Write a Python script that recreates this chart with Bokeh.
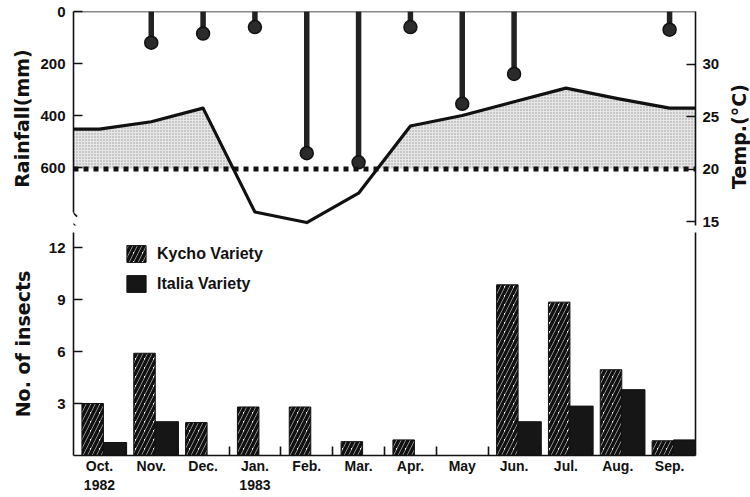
import math
import numpy as np
from bokeh.plotting import figure
from bokeh.models import (Range1d, LinearAxis, FixedTicker, Span, Legend, LegendItem, Arrow)
from bokeh.core.properties import value
from bokeh.layouts import column, row
from bokeh.embed import file_html
from bokeh.resources import INLINE

# ---------------- data ----------------
months = ["Oct.", "Nov.", "Dec.", "Jan.", "Feb.", "Mar.", "Apr.", "May", "Jun.", "Jul.", "Aug.", "Sep."]
month_labels = ["Oct.\n1982", "Nov.", "Dec.", "Jan.\n1983", "Feb.", "Mar.", "Apr.", "May",
                "Jun.", "Jul.", "Aug.", "Sep."]
rainfall_mm = [0, 120, 85, 60, 545, 580, 60, 355, 240, 0, 0, 70]
temperature_c = [23.8, 24.5, 25.8, 15.9, 14.9, 17.7, 24.1, 25.1, 26.4, 27.7, 26.7, 25.8]
temp_threshold = 20
kyoho_insects = [3.0, 5.9, 1.9, 2.8, 2.8, 0.8, 0.9, 0.0, 9.85, 8.85, 4.95, 0.85]
italia_insects = [0.75, 1.95, 0.0, 0.0, 0.0, 0.0, 0.0, 0.0, 1.95, 2.85, 3.8, 0.9]
rain_ticks = [0, 200, 400, 600]
temp_ticks = [15, 20, 25, 30]
insect_ticks = [3, 6, 9, 12]
temp_axis_title = "Temp.(°C)"

# ---------------- styles ----------------
TICK_FONT = "Liberation Sans"
LABEL_FONT = "DejaVu Sans"
INK = "#111111"
FRAME_W = 622
TOP_H = 214
BOT_H = 223
LEFT = 73
RIGHT = 28

n = len(months)
centers = [i + 0.5 for i in range(n)]
boundaries = [i for i in range(1, n)]
xr = Range1d(0, n)


def style_axis(ax, standoff_label=4):
    ax.axis_line_color = INK
    ax.axis_line_width = 1.6
    ax.major_tick_line_color = INK
    ax.major_tick_line_width = 1.6
    ax.major_tick_in = 9
    ax.major_tick_out = 0
    ax.minor_tick_in = 0
    ax.minor_tick_out = 0
    ax.major_label_text_font = TICK_FONT
    ax.major_label_text_font_style = "bold"
    ax.major_label_text_font_size = "15px"
    ax.major_label_text_color = INK
    ax.axis_label_text_font = LABEL_FONT
    ax.axis_label_text_font_style = "bold"
    ax.axis_label_text_font_size = "19px"
    ax.axis_label_text_color = INK
    ax.axis_label_standoff = standoff_label


# ---------------- top panel: rainfall + temperature ----------------
top = figure(frame_width=FRAME_W, frame_height=TOP_H, x_range=xr, y_range=Range1d(823, 0),
             output_backend="svg", toolbar_location=None,
             x_axis_location=None, y_axis_location=None,
             min_border_left=LEFT, min_border_top=11, min_border_bottom=7, min_border_right=RIGHT)
top.outline_line_color = None
top.grid.visible = False
top.extra_y_ranges = {"temp": Range1d(35 - TOP_H / 10.5, 35)}

la = LinearAxis(ticker=FixedTicker(ticks=rain_ticks), bounds=(0, 773), axis_label="Rainfall(mm)")
style_axis(la, 4)
la.major_label_standoff = 8
top.add_layout(la, "left")

ra = LinearAxis(y_range_name="temp", ticker=FixedTicker(ticks=temp_ticks), bounds=(0.4, 35))
style_axis(ra, 4)
ra.major_label_standoff = 7
top.add_layout(ra, "right")

top.add_layout(Span(location=0, dimension="width", line_color=INK, line_width=1.6))

# shaded area where temperature exceeds the threshold
tx = [xr.start] + centers + [xr.end]
ty = [temperature_c[0]] + temperature_c + [temperature_c[-1]]
sx, sy = [], []
for i in range(len(tx)):
    if i > 0 and (ty[i - 1] - temp_threshold) * (ty[i] - temp_threshold) < 0:
        t = (temp_threshold - ty[i - 1]) / (ty[i] - ty[i - 1])
        sx.append(tx[i - 1] + t * (tx[i] - tx[i - 1]))
        sy.append(temp_threshold)
    sx.append(tx[i])
    sy.append(max(ty[i], temp_threshold))
top.varea(x=sx, y1=[temp_threshold] * len(sx), y2=sy, y_range_name="temp",
          fill_color="#e6e6e6", hatch_pattern="dot", hatch_color="#9a9a9a",
          hatch_scale=3, hatch_weight=1)

top.add_layout(Span(location=temp_threshold, dimension="width", y_range_name="temp",
                    line_color=INK, line_width=5, line_dash="5 5"))

top.line(tx, ty, y_range_name="temp", line_color=INK, line_width=3.2, line_join="round")

rx = [c for c, r in zip(centers, rainfall_mm) if r > 0]
rv = [r for r in rainfall_mm if r > 0]
top.segment(x0=rx, y0=[0] * len(rx), x1=rx, y1=rv, line_color="#222222", line_width=5.5)
top.scatter(rx, rv, marker="circle", size=13, fill_color="#2b2b2b", line_color=INK, line_width=1.5)

# axis break marks
for y0, y1 in [(762, 789), (804, 831)]:
    top.add_layout(Arrow(end=None, x_start=-0.07, y_start=y0, x_end=0.07, y_end=y1,
                         line_color=INK, line_width=1.6))

# ---------------- right-hand title strip for the temperature axis ----------------
side_h = 11 + TOP_H + 7
side = figure(frame_width=28, frame_height=side_h, x_range=Range1d(0, 28), y_range=Range1d(side_h, 0),
              output_backend="svg", toolbar_location=None,
              x_axis_location=None, y_axis_location=None,
              min_border_left=0, min_border_right=0, min_border_top=0, min_border_bottom=0)
side.outline_line_color = None
side.grid.visible = False
side.text(x=[15], y=[136], text=[temp_axis_title], angle=math.pi / 2,
          text_align="center", text_baseline="middle", text_font=value(LABEL_FONT),
          text_font_style="bold", text_font_size="19px", text_color=INK)

# ---------------- bottom panel: insects ----------------
bot = figure(frame_width=FRAME_W, frame_height=BOT_H, x_range=xr, y_range=Range1d(0, BOT_H / 17.33),
             output_backend="svg", toolbar_location=None,
             x_axis_location=None, y_axis_location=None,
             min_border_left=LEFT, min_border_top=0, min_border_bottom=0, min_border_right=RIGHT)
bot.outline_line_color = None
bot.grid.visible = False

lb = LinearAxis(ticker=FixedTicker(ticks=insect_ticks), bounds=(0, 13.1), axis_label="No. of insects")
style_axis(lb, 12)
lb.major_label_standoff = 8
bot.add_layout(lb, "left")

rb = LinearAxis(ticker=FixedTicker(ticks=[]))
style_axis(rb)
bot.add_layout(rb, "right")

bx = LinearAxis(ticker=FixedTicker(ticks=centers, minor_ticks=boundaries))
style_axis(bx)
bx.major_tick_in = 0
bx.minor_tick_in = 9
bx.minor_tick_line_color = INK
bx.minor_tick_line_width = 1.6
bx.major_label_standoff = 2
bx.major_label_text_font_size = "14px"
bx.major_label_overrides = {c: lab for c, lab in zip(centers, month_labels)}
bot.add_layout(bx, "below")

kx = [c - 0.13 for c in centers]
ix = [c + 0.30 for c in centers]
kr = bot.vbar(x=kx, top=kyoho_insects, bottom=0, width=0.415, fill_color="white",
              hatch_pattern="/", hatch_color=INK, hatch_scale=9, hatch_weight=3.6,
              line_color=INK, line_width=1)
ir = bot.vbar(x=ix, top=italia_insects, bottom=0, width=0.45, fill_color="#161616",
              line_color=INK, line_width=1)

legend = Legend(items=[LegendItem(label="Kycho Variety", renderers=[kr]),
                       LegendItem(label="Italia Variety", renderers=[ir])],
                location=(51, 161), glyph_width=24, glyph_height=21, label_standoff=9,
                spacing=9, padding=0, margin=0, border_line_color=None,
                background_fill_alpha=0, label_text_font=TICK_FONT,
                label_text_font_style="bold", label_text_font_size="16px",
                label_text_color=INK)
bot.add_layout(legend, "center")

page = row(column(top, bot, spacing=0), side, spacing=0)
open("out.html", "w").write(file_html(page, INLINE))
